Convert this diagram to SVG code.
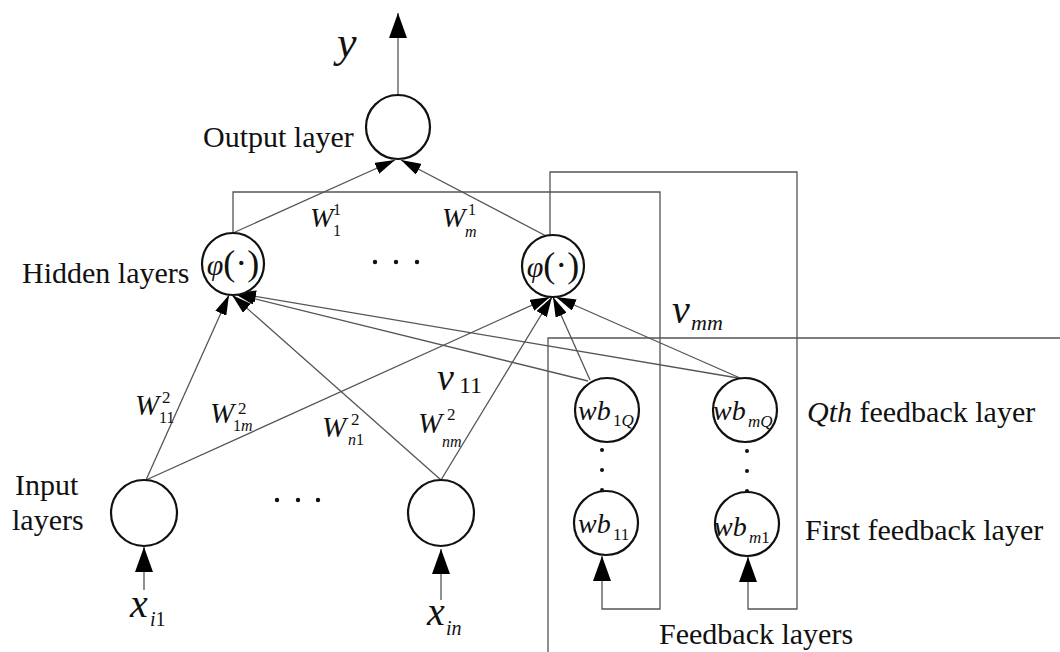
<svg xmlns="http://www.w3.org/2000/svg" width="1060" height="652" viewBox="0 0 1060 652">
<defs>
<marker id="ah" markerUnits="userSpaceOnUse" markerWidth="20" markerHeight="12" refX="20" refY="6" orient="auto"><path d="M0,0 L20,6 L0,12 Z" fill="#000"/></marker>
<marker id="ahb" markerUnits="userSpaceOnUse" markerWidth="25" markerHeight="18" refX="25" refY="9" orient="auto"><path d="M0,0 L25,9 L0,18 Z" fill="#000"/></marker>
<style>
.n{fill:#fff;stroke:#111;stroke-width:2.2}
.c{fill:none;stroke:#555;stroke-width:1.3}
.d{fill:#111}
text{font-family:"Liberation Serif","Times New Roman",serif;fill:#111}
.lbl{font-size:30px}
.i{font-style:italic}
</style>
</defs>
<rect width="1060" height="652" fill="#fff"/>
<g id="connectors" class="c">
<line x1="398" y1="95" x2="398" y2="13" marker-end="url(#ahb)"/>
<line x1="233" y1="233" x2="395" y2="160" marker-end="url(#ah)"/>
<line x1="548" y1="237" x2="401" y2="160" marker-end="url(#ah)"/>
<line x1="146" y1="480" x2="229" y2="295" marker-end="url(#ah)"/>
<line x1="146" y1="480" x2="550" y2="297" marker-end="url(#ah)"/>
<line x1="441" y1="480" x2="232" y2="295" marker-end="url(#ah)"/>
<line x1="441" y1="480" x2="552" y2="297" marker-end="url(#ah)"/>
<line x1="588" y1="381" x2="235" y2="294" marker-end="url(#ah)"/>
<line x1="738" y1="378" x2="236" y2="293" marker-end="url(#ah)"/>
<line x1="590" y1="380" x2="553" y2="297" marker-end="url(#ah)"/>
<line x1="740" y1="378" x2="556" y2="297" marker-end="url(#ah)"/>
<line x1="144" y1="590" x2="144" y2="547" marker-end="url(#ahb)"/>
<line x1="441" y1="600" x2="441" y2="549" marker-end="url(#ahb)"/>
<path d="M233,233 V192 H660 V609 H602 V556" marker-end="url(#ahb)"/>
<path d="M550,236 V172 H797 V609 H748 V557" marker-end="url(#ahb)"/>
<path d="M548,652 V338 H1060"/>
</g>
<g id="output-node"><circle class="n" cx="398" cy="127" r="32"/></g>
<g id="hidden-1"><circle class="n" cx="233" cy="264" r="31"/>
<text x="233" y="275" text-anchor="middle"><tspan class="i" font-size="30">φ</tspan><tspan font-size="36">(·)</tspan></text></g>
<g id="hidden-m"><circle class="n" cx="553" cy="266" r="31"/>
<text x="553" y="277" text-anchor="middle"><tspan class="i" font-size="30">φ</tspan><tspan font-size="36">(·)</tspan></text></g>
<g id="input-1"><circle class="n" cx="144" cy="513" r="33"/></g>
<g id="input-n"><circle class="n" cx="441" cy="513" r="33"/></g>
<g id="fb-1Q"><circle class="n" cx="607" cy="410" r="32"/>
<text y="420"><tspan x="578" class="i" font-size="28">wb</tspan><tspan x="613" y="426" font-size="17">1<tspan class="i">Q</tspan></tspan></text></g>
<g id="fb-mQ"><circle class="n" cx="745" cy="410" r="32"/>
<text y="420"><tspan x="713" class="i" font-size="28">wb</tspan><tspan x="748" y="427" class="i" font-size="17">mQ</tspan></text></g>
<g id="fb-11"><circle class="n" cx="606" cy="523" r="32"/>
<text y="533"><tspan x="578" class="i" font-size="28">wb</tspan><tspan x="613" y="540" font-size="17">11</tspan></text></g>
<g id="fb-m1"><circle class="n" cx="747" cy="524" r="32"/>
<text y="536"><tspan x="714" class="i" font-size="28">wb</tspan><tspan x="749" y="543" font-size="17"><tspan class="i">m</tspan>1</tspan></text></g>
<g id="dots">
<circle class="d" cx="375" cy="262" r="2.2"/><circle class="d" cx="396" cy="262" r="2.2"/><circle class="d" cx="417" cy="262" r="2.2"/>
<circle class="d" cx="277" cy="500" r="2.2"/><circle class="d" cx="298" cy="500" r="2.2"/><circle class="d" cx="318" cy="500" r="2.2"/>
<circle class="d" cx="602" cy="450" r="2"/><circle class="d" cx="602" cy="470" r="2"/><circle class="d" cx="602" cy="490" r="2"/>
<circle class="d" cx="747" cy="451" r="2"/><circle class="d" cx="747" cy="471" r="2"/><circle class="d" cx="747" cy="491" r="2"/>
</g>
<g id="labels">
<text class="lbl" x="203" y="147">Output layer</text>
<text class="lbl" x="22" y="283">Hidden layers</text>
<text class="lbl" x="15" y="495">Input</text>
<text class="lbl" x="12" y="530">layers</text>
<text class="lbl" x="659" y="644">Feedback layers</text>
<text class="lbl" x="807" y="422"><tspan class="i">Qth</tspan> feedback layer</text>
<text class="lbl" x="805" y="540">First feedback layer</text>
<text class="i" x="337" y="57" font-size="44">y</text>
<text><tspan class="i" x="310" y="227" font-size="28">W</tspan><tspan x="333" y="215" font-size="16">1</tspan><tspan x="333" y="236" font-size="16">1</tspan></text>
<text><tspan class="i" x="442" y="227" font-size="28">W</tspan><tspan x="468" y="215" font-size="16">1</tspan><tspan class="i" x="465" y="237" font-size="16">m</tspan></text>
<text><tspan class="i" x="135" y="415" font-size="29">W</tspan><tspan x="162" y="403" font-size="17">2</tspan><tspan x="159" y="423" font-size="16">11</tspan></text>
<text><tspan class="i" x="210" y="423" font-size="29">W</tspan><tspan x="238" y="414" font-size="17">2</tspan><tspan x="233" y="431" font-size="16">1<tspan class="i">m</tspan></tspan></text>
<text><tspan class="i" x="322" y="437" font-size="29">W</tspan><tspan x="351" y="425" font-size="17">2</tspan><tspan x="348" y="445" font-size="16"><tspan class="i">n</tspan>1</tspan></text>
<text><tspan class="i" x="418" y="433" font-size="29">W</tspan><tspan x="447" y="420" font-size="17">2</tspan><tspan class="i" x="442" y="447" font-size="16">nm</tspan></text>
<text><tspan class="i" x="437" y="390" font-size="38">v</tspan><tspan x="459" y="393" font-size="24">11</tspan></text>
<text><tspan class="i" x="672" y="323" font-size="40">v</tspan><tspan class="i" x="691" y="330" font-size="22">mm</tspan></text>
<text><tspan class="i" x="130" y="617" font-size="40">x</tspan><tspan x="150" y="626" font-size="20"><tspan class="i">i</tspan>1</tspan></text>
<text><tspan class="i" x="427" y="625" font-size="40">x</tspan><tspan class="i" x="446" y="635" font-size="20">in</tspan></text>
</g>
</svg>
